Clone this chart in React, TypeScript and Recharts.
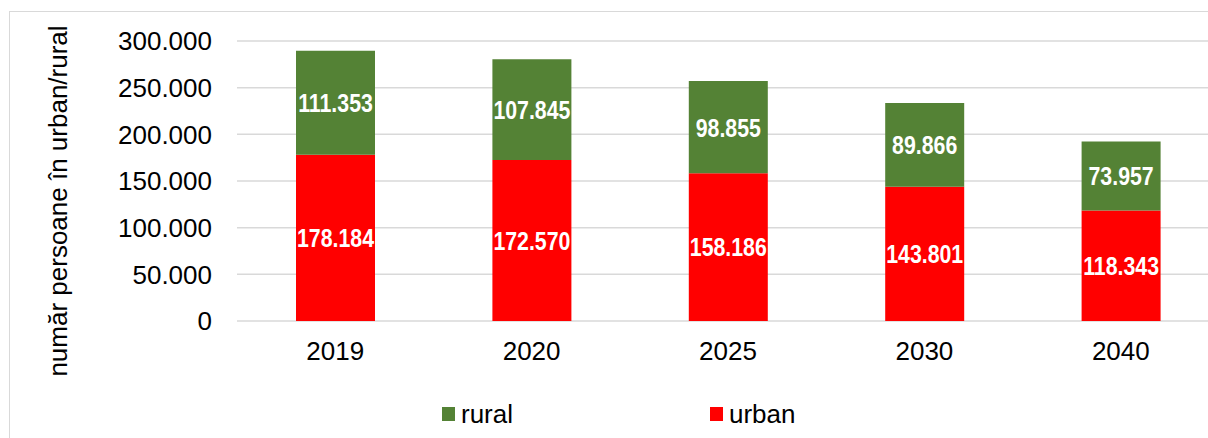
import { BarChart, Bar, XAxis, YAxis, CartesianGrid, Legend, LabelList } from 'recharts'

const years = ['2019', '2020', '2025', '2030', '2040']
const urban = [178184, 172570, 158186, 143801, 118343]
const rural = [111353, 107845, 98855, 89866, 73957]
const yTicks = [0, 50000, 100000, 150000, 200000, 250000, 300000]
const yLabel = 'număr persoane în urban/rural'

const URBAN_COLOR = '#ff0000'
const RURAL_COLOR = '#548235'
const FONT = '"Liberation Sans", Arial, sans-serif'

const data = years.map((year, i) => ({ year, urban: urban[i], rural: rural[i] }))

// romanian style thousands separator: 178.184
const fmt = (v: number) => String(v).replace(/\B(?=(\d{3})+(?!\d))/g, '.')

function YLabel() {
  return (
    <text
      x={58}
      y={201}
      transform="rotate(-90 58 201)"
      textAnchor="middle"
      dominantBaseline="central"
      fontSize={26}
      fontFamily={FONT}
      fill="#000"
    >
      {yLabel}
    </text>
  )
}

function LegendContent() {
  const items = [
    { name: 'rural', color: RURAL_COLOR },
    { name: 'urban', color: URBAN_COLOR },
  ]
  return (
    <div style={{ display: 'flex', alignItems: 'center', height: 30, paddingLeft: 442 }}>
      {items.map((it, i) => (
        <div
          key={it.name}
          style={{ display: 'flex', alignItems: 'center', width: i === 0 ? 268 : 'auto' }}
        >
          <span style={{ width: 13, height: 14, background: it.color, marginRight: 6 }} />
          <span style={{ fontSize: 26, fontFamily: FONT, color: '#000', lineHeight: '30px' }}>
            {it.name}
          </span>
        </div>
      ))}
    </div>
  )
}

// bold condensed value label, squeezed horizontally like Arial Narrow
function ValueLabel(props: any) {
  const { x, y, width, height, value } = props
  const cx = Number(x) + Number(width) / 2
  const cy = Number(y) + Number(height) / 2
  return (
    <text
      transform={`translate(${cx} ${cy}) scale(0.82 1)`}
      x={0}
      y={0}
      textAnchor="middle"
      dominantBaseline="central"
      fill="#fff"
      fontSize={26}
      fontWeight={700}
      fontFamily={FONT}
    >
      {fmt(value)}
    </text>
  )
}

export default function App() {
  return (
    <div
      style={{
        position: 'fixed',
        left: 0,
        top: 0,
        width: 1208,
        height: 438,
        overflow: 'hidden',
        background: '#fff',
      }}
    >
      <div
        style={{
          position: 'absolute',
          left: 9,
          top: 11,
          width: 1300,
          height: 500,
          border: '1px solid #d9d9d9',
        }}
      />
      <div style={{ position: 'absolute', left: 0, top: 0 }}>
        <BarChart
          width={1230}
          height={438}
          data={data}
          margin={{ top: 41, right: 11, left: 0, bottom: 9 }}
        >
          <CartesianGrid vertical={false} stroke="#d9d9d9" strokeWidth={1.5} />
          <XAxis
            dataKey="year"
            axisLine={false}
            tickLine={false}
            tickSize={0}
            tickMargin={21}
            height={78}
            tick={{ fontSize: 26, fill: '#000', fontFamily: FONT }}
          />
          <YAxis
            domain={[0, 300000]}
            ticks={yTicks}
            width={237}
            axisLine={false}
            tickLine={false}
            tickSize={0}
            tickMargin={25}
            tickFormatter={fmt}
            tick={{ fontSize: 26, fill: '#000', fontFamily: FONT }}
            label={<YLabel />}
          />
          <Legend verticalAlign="bottom" content={<LegendContent />} />
          <Bar
            dataKey="urban"
            stackId="a"
            fill={URBAN_COLOR}
            barSize={79}
            isAnimationActive={false}
          >
            <LabelList dataKey="urban" content={<ValueLabel />} />
          </Bar>
          <Bar
            dataKey="rural"
            stackId="a"
            fill={RURAL_COLOR}
            barSize={79}
            isAnimationActive={false}
          >
            <LabelList dataKey="rural" content={<ValueLabel />} />
          </Bar>
        </BarChart>
      </div>
    </div>
  )
}
